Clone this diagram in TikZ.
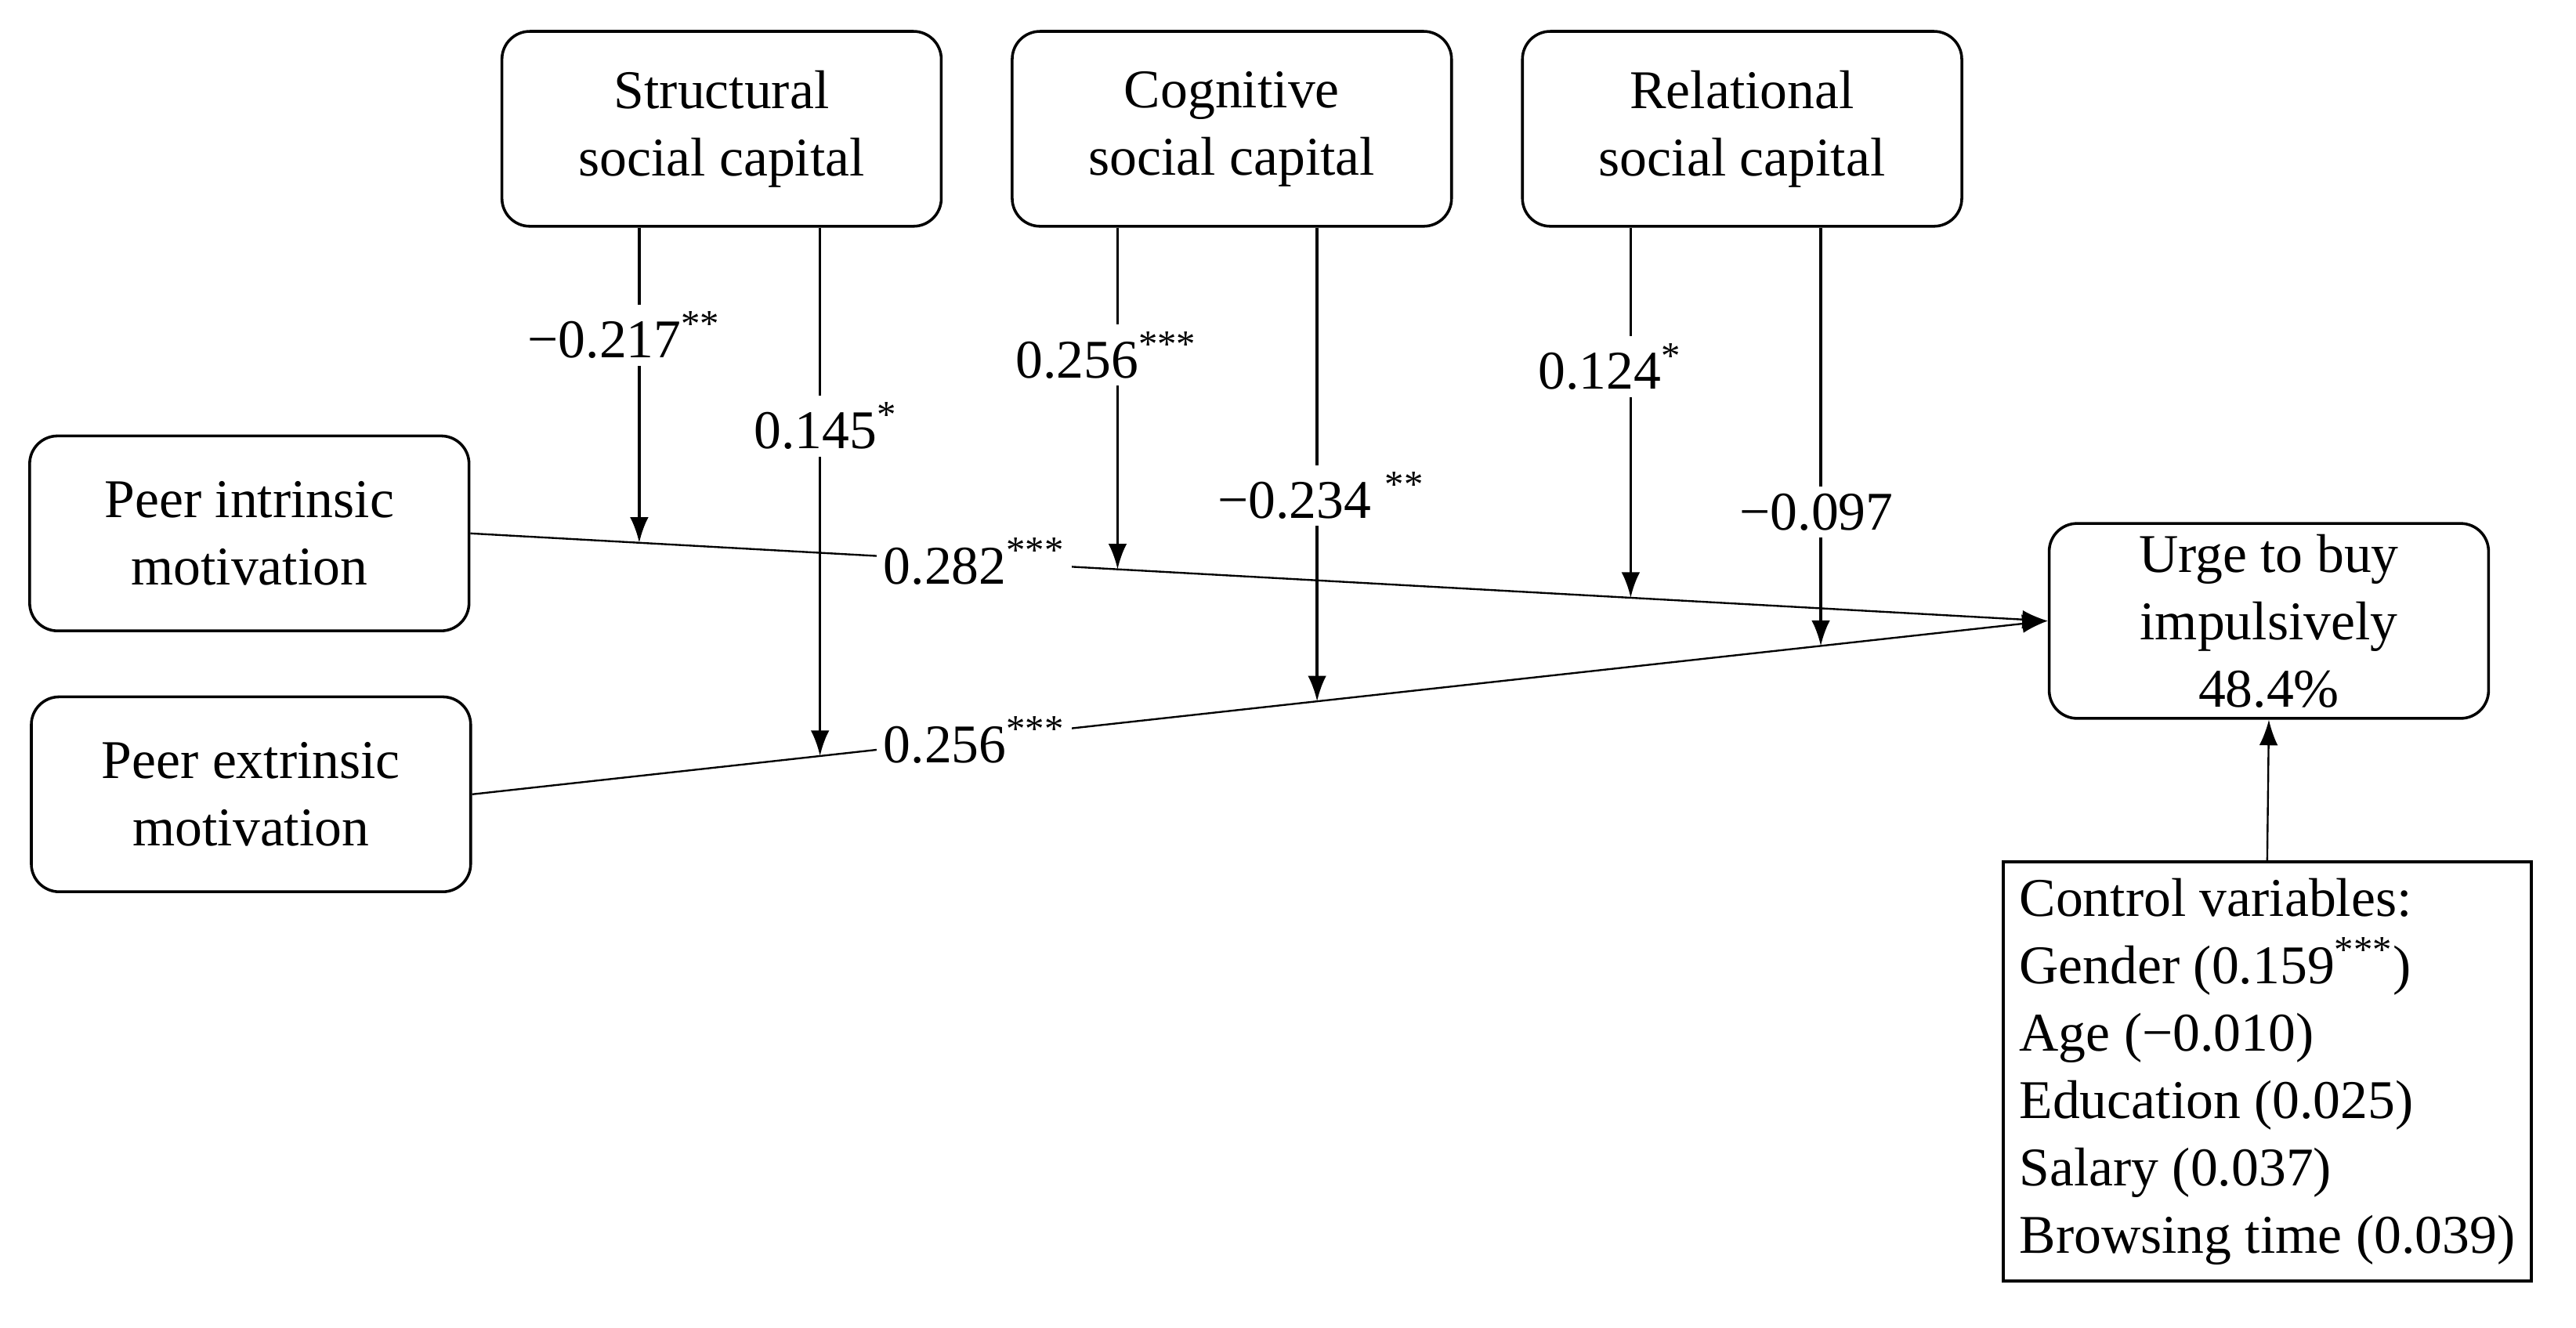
\documentclass[tikz,border=0pt]{standalone}
\usepackage{fontspec}
\setmainfont{Liberation Serif}
\usetikzlibrary{calc,arrows.meta}
\tikzset{
  box/.style={draw, rounded corners=12pt, minimum width=6.65cm, minimum height=2.95cm, align=center, line width=1.2pt},
  lbl/.style={fill=white, inner sep=3pt},
  path/.style={line width=1.2pt, -{Latex[length=11pt,width=8pt]}}
}
\newcommand{\sig}[1]{\textsuperscript{#1}}
\begin{document}
\begin{tikzpicture}[x=0.025cm, y=-0.025cm, font=\fontsize{23.5}{29}\selectfont]
	\useasboundingbox (0,0) rectangle (1560,804);

	% constructs
	\node[box] (ssc) at (437,78) {Structural\\social capital};
	\node[box] (csc) at (746,78) {Cognitive\\social capital};
	\node[box] (rsc) at (1055,78) {Relational\\social capital};
	\node[box] (pim) at (151,323) {Peer intrinsic\\motivation};
	\node[box] (pem) at (152,481) {Peer extrinsic\\motivation};
	\node[box] (urge) at (1374,376) {Urge to buy\\impulsively\\48.4\%};
	\node[draw, line width=1.4pt, align=left, anchor=north, inner sep=7pt] (ctrl) at (1373,521)
		{Control variables:\\Gender (0.159\sig{***})\\Age (−0.010)\\Education (0.025)\\Salary (0.037)\\Browsing time (0.039)};

	% main paths
	\draw[path, line width=0.8pt] (pim.east) -- (urge.west);
	\draw[path, line width=0.8pt] (pem.east) -- (urge.west);
	\node[lbl] (b1) at (590,340) {0.282\sig{***}};
	\node[lbl] (b2) at (590,448) {0.256\sig{***}};

	% moderation targets
	\coordinate (m1) at ($(pim.east)!{(387-285)/(1238-285)}!(urge.west)$);
	\coordinate (m3) at ($(pim.east)!{(676-285)/(1238-285)}!(urge.west)$);
	\coordinate (m5) at ($(pim.east)!{(986-285)/(1238-285)}!(urge.west)$);
	\coordinate (m2) at ($(pem.east)!{(497-287)/(1238-287)}!(urge.west)$);
	\coordinate (m4) at ($(pem.east)!{(797-287)/(1238-287)}!(urge.west)$);
	\coordinate (m6) at ($(pem.east)!{(1101-287)/(1238-287)}!(urge.west)$);

	% moderation paths
	\draw[path] (ssc.south -| m1) -- (m1);
	\draw[path] (ssc.south -| m2) -- (m2);
	\draw[path] (csc.south -| m3) -- (m3);
	\draw[path] (csc.south -| m4) -- (m4);
	\draw[path] (rsc.south -| m5) -- (m5);
	\draw[path] (rsc.south -| m6) -- (m6);
	\node[lbl] (c1) at (378,203) {−0.217\sig{**}};
	\node[lbl] (c2) at (500,258) {0.145\sig{*}};
	\node[lbl] (c3) at (670,215) {0.256\sig{***}};
	\node[lbl] (c4) at (800,300) {−0.234 \sig{**}};
	\node[lbl] (c5) at (975,222) {0.124\sig{*}};
	\node[lbl] (c6) at (1100,310) {−0.097};

	% controls
	\draw[path, line width=0.8pt] (ctrl.north) -- (urge.south);
\end{tikzpicture}
\end{document}
